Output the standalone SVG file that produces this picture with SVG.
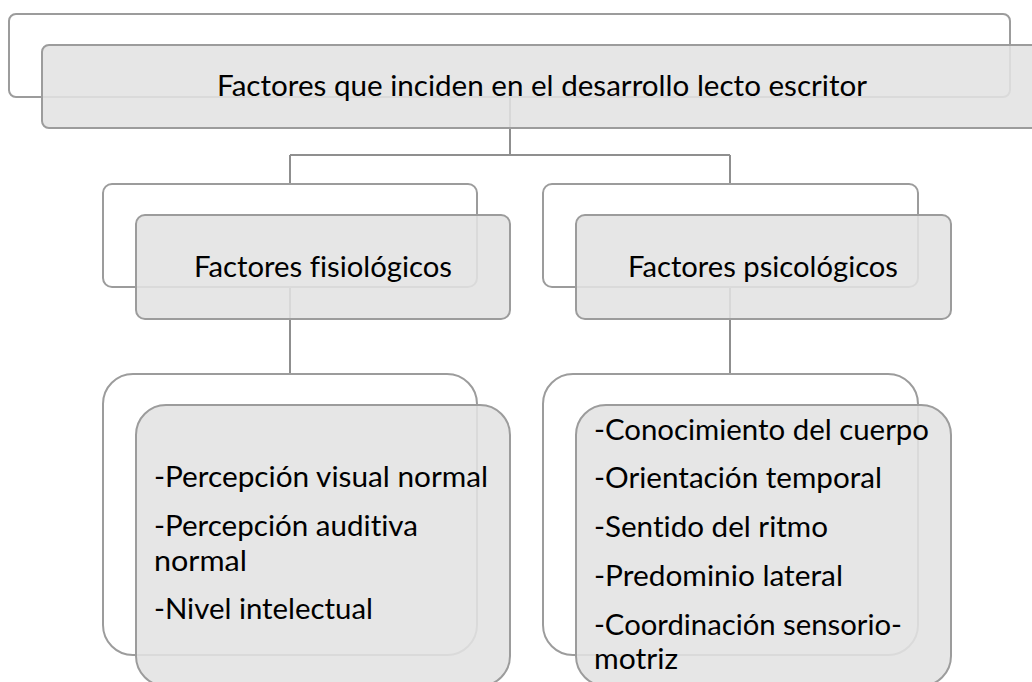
<svg xmlns="http://www.w3.org/2000/svg" width="1032" height="682" viewBox="0 0 1032 682">
<style>
.back{fill:#ffffff;stroke:#9c9c9c;stroke-width:2}
.front{fill:#e2e2e2;fill-opacity:0.88;stroke:#9c9c9c;stroke-width:2}
.conn{fill:none;stroke:#8f8f8f;stroke-width:2}
text{font-family:Lato,"Liberation Sans",sans-serif;fill:#000;font-size:28px;font-variant-ligatures:none}
</style>
<rect width="1032" height="682" fill="#ffffff"/>
<g id="connectors">
<path class="conn" d="M510 97V155M290 155H730M290 155V184M730 155V184"/>
<path class="conn" d="M290 287V374M730 287V374"/>
</g>
<g id="root">
<rect class="back" x="9" y="14" width="1001" height="83" rx="7"/>
<rect class="front" x="42" y="45" width="1000" height="83" rx="7"/>
<text x="217" y="96" textLength="650" lengthAdjust="spacingAndGlyphs">Factores que inciden en el desarrollo lecto escritor</text>
</g>
<g id="fisio">
<rect class="back" x="103" y="184" width="374" height="103" rx="9"/>
<rect class="front" x="136" y="215" width="374" height="104" rx="9"/>
<text x="194" y="277" textLength="258" lengthAdjust="spacingAndGlyphs">Factores fisiológicos</text>
</g>
<g id="psico">
<rect class="back" x="543" y="184" width="375" height="103" rx="9"/>
<rect class="front" x="576" y="215" width="375" height="104" rx="9"/>
<text x="628" y="277" textLength="270" lengthAdjust="spacingAndGlyphs">Factores psicológicos</text>
</g>
<g id="fisio-list">
<rect class="back" x="103" y="374" width="374" height="281" rx="30"/>
<rect class="front" x="136" y="405" width="374" height="281" rx="30"/>
<text x="154" y="487" textLength="334" lengthAdjust="spacingAndGlyphs">-Percepción visual normal</text>
<text x="154" y="536" textLength="264" lengthAdjust="spacingAndGlyphs">-Percepción auditiva</text>
<text x="154" y="571" textLength="93" lengthAdjust="spacingAndGlyphs">normal</text>
<text x="154" y="619" textLength="219" lengthAdjust="spacingAndGlyphs">-Nivel intelectual</text>
</g>
<g id="psico-list">
<rect class="back" x="543" y="374" width="375" height="281" rx="30"/>
<rect class="front" x="576" y="405" width="375" height="281" rx="30"/>
<text x="594" y="440" textLength="335" lengthAdjust="spacingAndGlyphs">-Conocimiento del cuerpo</text>
<text x="594" y="488" textLength="288" lengthAdjust="spacingAndGlyphs">-Orientación temporal</text>
<text x="594" y="537" textLength="234" lengthAdjust="spacingAndGlyphs">-Sentido del ritmo</text>
<text x="594" y="586" textLength="249" lengthAdjust="spacingAndGlyphs">-Predominio lateral</text>
<text x="594" y="635" textLength="308" lengthAdjust="spacingAndGlyphs">-Coordinación sensorio-</text>
<text x="594" y="669" textLength="84" lengthAdjust="spacingAndGlyphs">motriz</text>
</g>
</svg>
